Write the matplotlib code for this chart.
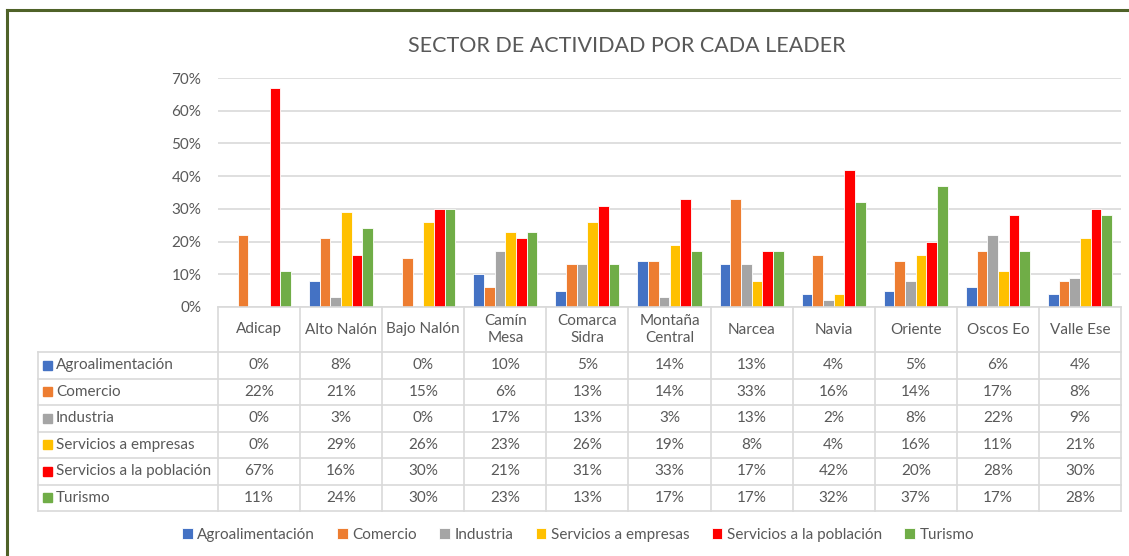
import numpy as np
import matplotlib
matplotlib.use("Agg")
from matplotlib import pyplot as plt
from matplotlib.patches import Rectangle

plt.rcParams["font.family"] = ["Lato", "DejaVu Sans"]

categories = ["Adicap", "Alto Nalón", "Bajo Nalón", "Camín\nMesa", "Comarca\nSidra",
              "Montaña\nCentral", "Narcea", "Navia", "Oriente", "Oscos Eo", "Valle Ese"]
series = ["Agroalimentación", "Comercio", "Industria", "Servicios a empresas",
          "Servicios a la población", "Turismo"]

agro = [0, 8, 0, 10, 5, 14, 13, 4, 5, 6, 4]
comercio = [22, 21, 15, 6, 13, 14, 33, 16, 14, 17, 8]
industria = [0, 3, 0, 17, 13, 3, 13, 2, 8, 22, 9]
serv_empresas = [0, 29, 26, 23, 26, 19, 8, 4, 16, 11, 21]
serv_poblacion = [67, 16, 30, 21, 31, 33, 17, 42, 20, 28, 30]
turismo = [11, 24, 30, 23, 13, 17, 17, 32, 37, 17, 28]

values = [agro, comercio, industria, serv_empresas, serv_poblacion, turismo]
colors = ["#4472C4", "#ED7D31", "#A5A5A5", "#FFC000", "#FF0000", "#70AD47"]

W, H = 1129, 556
TXT = "#595959"
GRID = "#d9d9d9"
FS = 11


def box(left, top, right, bottom):
    return [left / W, 1 - bottom / H, (right - left) / W, (bottom - top) / H]


fig = plt.figure(figsize=(W / 100, H / 100), dpi=100)

# outer frame: only top and left edges are visible in the crop
frame_kw = dict(transform=fig.transFigure, color="#4F6228", linewidth=2.2)
fig.add_artist(plt.Line2D([7 / W, 1], [1 - 10 / H, 1 - 10 / H], **frame_kw))
fig.add_artist(plt.Line2D([7 / W, 7 / W], [0, 1 - 10 / H], **frame_kw))

fig.text(627 / W, 1 - 46 / H, "SECTOR DE ACTIVIDAD POR CADA LEADER",
         ha="center", va="center", fontsize=15.5, color=TXT)

# bars
ax = fig.add_axes(box(218, 78, 1121, 307))
x = np.arange(len(categories))
n = len(series)
slot = 0.78 / n
for k, (name, vals, col) in enumerate(zip(series, values, colors)):
    ax.bar(x + (k - (n - 1) / 2) * slot, np.array(vals) / 100, width=slot,
           color=col, edgecolor="white", linewidth=0.6, label=name, zorder=3)

ax.set_xlim(-0.5, len(categories) - 0.5)
ax.set_ylim(0, 0.7)
ax.set_yticks(np.arange(0, 0.71, 0.1))
ax.set_yticklabels([f"{int(round(t * 100))}%" for t in np.arange(0, 0.71, 0.1)])
ax.tick_params(axis="y", length=0, pad=12, labelsize=FS, labelcolor=TXT)
ax.set_xticks([])
ax.grid(axis="y", color=GRID, linewidth=1.2, zorder=0)
for s in ax.spines.values():
    s.set_visible(False)

# data table
tab = fig.add_axes(box(38, 307, 1121, 511))
col_w = (1121 - 218) / len(categories)
left_edge = -0.5 - (218 - 38) / col_w
tab.set_xlim(left_edge, len(categories) - 0.5)
tab.set_ylim(511, 307)
tab.axis("off")

header_bottom = 352
row_h = (511 - header_bottom) / n
lk = dict(color=GRID, linewidth=1.2, clip_on=False)

tab.plot([-0.5, len(categories) - 0.5], [307, 307], **lk)
for i in range(len(categories) + 1):
    tab.plot([i - 0.5, i - 0.5], [307, 511], **lk)
tab.plot([left_edge, left_edge], [header_bottom, 511], **lk)
for r in range(n + 1):
    y = header_bottom + r * row_h
    tab.plot([left_edge, len(categories) - 0.5], [y, y], **lk)

for i, c in enumerate(categories):
    tab.text(i, (307 + header_bottom) / 2, c, ha="center", va="center",
             fontsize=FS, color=TXT, linespacing=1.3)

for r, (name, vals, col) in enumerate(zip(series, values, colors)):
    yc = header_bottom + (r + 0.5) * row_h
    tab.add_patch(Rectangle((left_edge + 5 / col_w, yc - 4.5), 9 / col_w, 9,
                            color=col, transform=tab.transData))
    tab.text(left_edge + 18 / col_w, yc, name, ha="left", va="center",
             fontsize=FS, color=TXT)
    for i, v in enumerate(vals):
        tab.text(i, yc, f"{v}%", ha="center", va="center", fontsize=FS, color=TXT)

handles, labels = ax.get_legend_handles_labels()
fig.legend(handles, labels, loc="center", bbox_to_anchor=(578 / W, 1 - 535 / H),
           ncol=n, frameon=False, fontsize=FS, labelcolor=TXT,
           handlelength=0.7, handleheight=0.7, handletextpad=0.3, columnspacing=1.45)

fig.savefig("out.png", dpi=100)
